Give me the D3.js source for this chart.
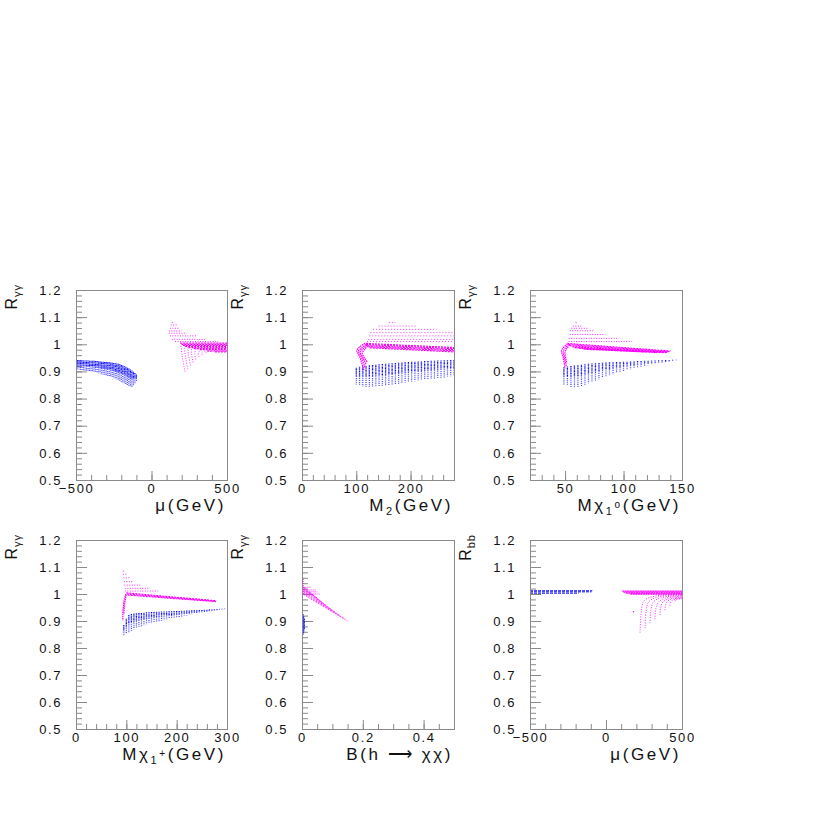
<!DOCTYPE html>
<html>
<head>
<meta charset="utf-8">
<script src="https://cdn.jsdelivr.net/npm/d3@7"></script>
<style>
  body { margin: 0; background: #fff; }
  svg { display: block; }
</style>
</head>
<body>
<svg id="chart" width="817" height="817"></svg>
<script>
/* ---- axis ticks ---- */
const yTicks = [0.5, 0.6, 0.7, 0.8, 0.9, 1, 1.1, 1.2];
const yTickLabels = ["0.5", "0.6", "0.7", "0.8", "0.9", "1", "1.1", "1.2"];
const muTicks = [-500, 0, 500];
const m2Ticks = [0, 100, 200];
const mN1Ticks = [50, 100, 150];
const mC1Ticks = [0, 100, 200, 300];
const brTicks = [0, 0.2, 0.4];
const brTickLabels = ["0", "0.2", "0.4"];

/* ---- panel 1 : R_gg vs mu ---- */
const p1BlueMu = [-500,-490,-480,-470,-460,-450,-440,-430,-420,-410,-400,-390,-380,-370,-360,-350,-340,-330,-320,-310,-300,-290,-280,-270,-260,-250,-240,-230,-220,-210,-200,-190,-180,-170,-160,-150,-140,-130,-120,-110,-100];
const p1BlueTop = [.942,.942,.941,.941,.941,.940,.940,.940,.940,.939,.939,.939,.939,.938,.938,.937,.937,.936,.936,.935,.935,.934,.934,.933,.932,.931,.930,.929,.928,.926,.924,.922,.919,.917,.914,.911,.907,.903,.899,.894,.889];
const p1BlueBot = [.908,.908,.907,.906,.905,.904,.903,.902,.900,.899,.898,.897,.896,.895,.894,.893,.892,.890,.889,.887,.886,.884,.882,.880,.878,.876,.873,.871,.868,.865,.862,.859,.856,.853,.850,.847,.845,.843,.848,.854,.861];
const p1MagFan = [[135,1.080,150,1.080],[127,1.071,167,1.071],[122,1.059,189,1.059],[115,1.049,200,1.049],[115,1.041,233,1.041],[122,1.031,299,1.031],[134,1.018,354,1.018],[156,1.010,442,1.010]];
const p1MagBand = [[190,1.004,500,1.004],[198,1.000,500,1.000],[208,0.996,500,0.996],[222,0.992,500,0.992],[245,0.988,500,0.988],[280,0.984,500,0.984],[320,0.980,500,0.980],[370,0.976,500,0.976],[420,0.972,500,0.972]];
const p1MagArcs = [
  [[222,0.899],[205,0.950],[195,0.995]],
  [[240,0.910],[225,0.955],[215,0.992]],
  [[258,0.922],[245,0.960],[240,0.989]],
  [[276,0.933],[265,0.963],[265,0.985]],
  [[294,0.944],[287,0.966],[295,0.982]],
  [[314,0.953],[310,0.968],[325,0.979]],
  [[335,0.961],[335,0.970],[360,0.976]],
  [[360,0.967],[365,0.972],[400,0.974]]
];

/* ---- panel 2 : R_gg vs M2 ---- */
const p2BlueM2 = [100,106,112,118,124,130,136,142,148,154,160,166,172,178,184,190,196,202,208,214,220,226,232,238,244,250,256,262,268,274,280];
const p2BlueTop = [.914,.917,.919,.921,.923,.924,.925,.926,.927,.928,.929,.930,.931,.932,.933,.934,.935,.936,.936,.937,.937,.938,.938,.939,.939,.940,.940,.941,.941,.942,.942];
const p2BlueBot = [.852,.848,.845,.843,.842,.842,.843,.844,.845,.847,.849,.851,.853,.855,.857,.859,.861,.862,.864,.866,.867,.869,.870,.872,.873,.875,.877,.878,.880,.882,.884];
const p2MagFan = [[160,1.080,172,1.080],[141,1.067,211,1.067],[131,1.055,248,1.055],[126,1.043,280,1.043],[124,1.031,280,1.031],[122,1.018,280,1.018],[120,1.010,280,1.010]];
const p2MagBand = [[118,1.003,280,0.988],[118,0.999,280,0.984],[120,0.995,280,0.980],[122,0.991,280,0.976],[125,0.987,280,0.972]];
const p2MagHook = [
  [[116,1.004],[106,0.990],[101,0.977],[106,0.955],[114,0.905]],
  [[118,1.000],[109,0.985],[104,0.975],[109,0.955],[116,0.915]],
  [[120,0.998],[112,0.982],[107,0.972],[112,0.952],[118,0.925]],
  [[121,0.995],[115,0.980],[111,0.968],[115,0.950],[120,0.935]]
];

/* ---- panel 3 : R_gg vs M chi1^0 ---- */
const p3BlueM = [49,52,55,58,61,64,67,70,73,76,79,82,85,88,91,94,97,100,103,106,109,112,115,118,121,124,127,130,133,136,139,142,145];
const p3BlueTop = [.915,.918,.920,.922,.923,.925,.926,.928,.929,.930,.931,.932,.933,.934,.934,.935,.935,.936,.936,.937,.937,.938,.938,.939,.939,.940,.940,.941,.941,.942,.942,.943,.943];
const p3BlueBot = [.852,.848,.843,.839,.840,.845,.851,.856,.861,.866,.871,.876,.881,.886,.890,.894,.898,.902,.905,.908,.911,.914,.917,.920,.923,.926,.928,.931,.933,.935,.937,.939,.941];
const p3MagFan = [[59,1.080,61,1.080],[56.6,1.067,64,1.067],[55.3,1.059,70,1.059],[54,1.050,75,1.050],[54,1.036,83,1.036],[53,1.022,96,1.022],[53,1.010,107,1.010]];
const p3MagBand = [[52,1.003,140,0.975],[53,0.999,139,0.973],[54,0.995,138,0.971],[56,0.991,137,0.970],[58,0.988,135,0.969],[62,0.985,128,0.970],[66,0.982,118,0.972]];
const p3MagHook = [
  [[52,1.002],[49,0.990],[47,0.977],[48.5,0.950],[50,0.911]],
  [[53,1.000],[50.5,0.988],[48.5,0.975],[49.5,0.950],[51,0.920]],
  [[54,0.998],[51.5,0.985],[50,0.972],[50.5,0.950],[51.5,0.930]]
];

/* ---- panel 4 : R_gg vs M chi1^+ ---- */
const p4BlueM = [95,100,105,110,115,120,125,130,135,140,145,150,155,160,165,170,175,180,185,190,195,200,205,210,215,220,225,230,235,240,245,250,255,260,265,270,275,280,285,290,295];
const p4BlueTop = [.885,.908,.922,.926,.928,.929,.930,.930,.931,.932,.932,.933,.933,.934,.934,.935,.935,.935,.936,.936,.937,.937,.937,.938,.938,.939,.939,.940,.940,.940,.941,.941,.942,.942,.943,.943,.944,.944,.945,.945,.946];
const p4BlueBot = [.845,.852,.858,.864,.869,.873,.877,.881,.884,.887,.890,.892,.895,.897,.899,.901,.903,.905,.907,.909,.911,.913,.915,.917,.919,.920,.922,.924,.926,.927,.929,.931,.932,.934,.936,.937,.939,.940,.942,.943,.944];
const p4MagFan = [[93,1.085,95,1.085],[93,1.073,100,1.073],[94,1.060,107,1.060],[95,1.046,113,1.046],[96,1.033,128,1.033],[97,1.021,147,1.021],[97,1.011,163,1.011]];
const p4MagBand = [[100,1.004,278,0.975],[101,1.000,279,0.973],[103,0.996,278,0.972]];
const p4MagHook = [
  [[99,1.000],[96,0.980],[94,0.950],[93,0.920],[93,0.902]],
  [[100,0.998],[97.5,0.975],[96,0.950],[95,0.925]]
];

/* ---- panel 5 : R_gg vs B(h -> chi chi) ---- */
const p5Blue = [[0.002,0.848,0.002,0.928],[0.004,0.850,0.004,0.925],[0.006,0.858,0.006,0.918],[0.008,0.870,0.008,0.910]];
const p5MagTop = [[0.001,1.000,0.001,1.083],[0.004,1.000,0.004,1.060],[0.002,1.025,0.030,1.025],[0.002,1.015,0.045,1.015],[0.002,1.008,0.050,1.008],[0.002,1.000,0.060,1.000]];
const p5MagFan = [[0.002,1.000,0.150,0.900],[0.002,1.005,0.140,0.908],[0.002,1.010,0.125,0.920],[0.002,1.015,0.110,0.932],[0.002,1.020,0.095,0.944],[0.002,1.025,0.080,0.957],[0.002,1.030,0.065,0.970],[0.002,1.020,0.050,0.985]];

/* ---- panel 6 : R_bb vs mu ---- */
const p6Blue = [[-500,1.012,-90,1.012],[-500,1.008,-95,1.008],[-500,1.003,-180,1.003]];
const p6MagBand = [[107,1.011,500,1.011],[115,1.007,500,1.007],[130,1.003,500,1.003],[160,1.000,500,1.000]];
const p6MagArcs = [
  [[224,0.857],[232,0.930],[250,0.975],[320,0.992],[500,0.998]],
  [[257,0.873],[264,0.935],[280,0.970],[340,0.989],[500,0.996]],
  [[289,0.892],[296,0.940],[312,0.970],[360,0.986],[500,0.994]],
  [[322,0.907],[328,0.945],[345,0.970],[390,0.984],[500,0.992]],
  [[355,0.922],[360,0.950],[375,0.971],[415,0.982],[500,0.989]],
  [[388,0.940],[392,0.958],[405,0.973],[440,0.982],[500,0.986]],
  [[421,0.957],[425,0.967],[435,0.976],[460,0.981],[500,0.984]],
  [[454,0.974],[458,0.978],[470,0.981],[500,0.982]]
];
const p6MagDots = [[180,0.935]];

const BLUE = "#0c0cff", MAG = "#ff00ff";
const FONT = "'Liberation Sans', Arial, Helvetica, sans-serif";

const svg = d3.select("#chart");
svg.append("rect").attr("width", 817).attr("height", 817).attr("fill", "#fff");

let clipId = 0;

function makePanel(cfg) {
  const g = svg.append("g");
  const x = d3.scaleLinear().domain(cfg.xDom).range([cfg.x0, cfg.x1]);
  const y = d3.scaleLinear().domain([0.5, 1.2]).range([cfg.y1, cfg.y0]);

  // minor y ticks
  g.append("g")
    .attr("transform", `translate(${cfg.x0},0)`)
    .attr("color", "#8a8a8a")
    .call(d3.axisLeft(y).tickValues(d3.range(0.5, 1.2001, 0.02)).tickSize(-6).tickFormat(""))
    .call(a => a.select(".domain").remove());

  // major y ticks + labels
  const ya = g.append("g")
    .attr("transform", `translate(${cfg.x0},0)`)
    .attr("color", "#8a8a8a")
    .call(d3.axisLeft(y).tickValues(yTicks).tickSize(-11).tickPadding(14)
      .tickFormat((d, i) => yTickLabels[i]))
    .call(a => a.select(".domain").remove());

  // minor x ticks
  g.append("g")
    .attr("transform", `translate(0,${cfg.y1})`)
    .attr("color", "#8a8a8a")
    .call(d3.axisBottom(x).tickValues(cfg.xMinor).tickSize(-5).tickFormat(""))
    .call(a => a.select(".domain").remove());

  // major x ticks + labels
  const xa = g.append("g")
    .attr("transform", `translate(0,${cfg.y1})`)
    .attr("color", "#8a8a8a")
    .call(d3.axisBottom(x).tickValues(cfg.xMajor).tickSize(-9).tickPadding(4)
      .tickFormat(cfg.xFormat))
    .call(a => a.select(".domain").remove());

  [ya, xa].forEach(a => {
    a.attr("font-family", null).attr("font-size", null);
    a.selectAll("text")
      .attr("fill", "#111")
      .attr("font-family", FONT)
      .attr("font-size", 13)
      .attr("letter-spacing", "1.6px");
  });

  // frame
  g.append("rect")
    .attr("x", cfg.x0 + 0.5).attr("y", cfg.y0 + 0.5)
    .attr("width", cfg.x1 - cfg.x0).attr("height", cfg.y1 - cfg.y0)
    .attr("fill", "none").attr("stroke", "#8a8a8a").attr("stroke-width", 1);

  // x title
  const xt = g.append("text")
    .attr("x", cfg.x1 - 1).attr("y", cfg.y1 + 31)
    .attr("text-anchor", "end")
    .attr("font-family", FONT).attr("font-size", 17)
    .attr("letter-spacing", "2.6px").attr("fill", "#111");
  cfg.xTitle.forEach(t => {
    const s = xt.append("tspan").text(t.s);
    if (t.dy) s.attr("dy", t.dy);
    if (t.fs) s.attr("font-size", t.fs);
  });

  // y title (rotated)
  const yt = g.append("text")
    .attr("transform", `translate(${cfg.x0 - 59},${cfg.y0 - 6}) rotate(-90)`)
    .attr("text-anchor", "end")
    .attr("font-family", FONT).attr("font-size", 16)
    .attr("letter-spacing", "1px").attr("fill", "#111");
  yt.append("tspan").text("R");
  yt.append("tspan").text(cfg.ySub).attr("font-size", 11).attr("dy", 4);

  const cid = "clip" + (clipId++);
  svg.append("clipPath").attr("id", cid).append("rect")
    .attr("x", cfg.x0 + 1).attr("y", cfg.y0 + 1)
    .attr("width", cfg.x1 - cfg.x0 - 1).attr("height", cfg.y1 - cfg.y0 - 1);
  const plot = g.append("g").attr("clip-path", `url(#${cid})`);

  return { g: plot, x, y };
}

function streaks(p, xs, tops, bots, color) {
  const sel = p.g.append("g").selectAll("g").data(xs).join("g");
  // denser upper half, sparser lower half of each scan column
  sel.append("line")
    .attr("x1", d => p.x(d)).attr("x2", d => p.x(d))
    .attr("y1", (d, i) => p.y(tops[i]))
    .attr("y2", (d, i) => (p.y(tops[i]) + p.y(bots[i])) / 2)
    .attr("stroke", color).attr("stroke-width", 1.3)
    .attr("stroke-dasharray", "1,0.4");
  sel.append("line")
    .attr("x1", d => p.x(d)).attr("x2", d => p.x(d))
    .attr("y1", (d, i) => (p.y(tops[i]) + p.y(bots[i])) / 2)
    .attr("y2", (d, i) => p.y(bots[i]))
    .attr("stroke", color).attr("stroke-width", 1.2).attr("opacity", 0.75)
    .attr("stroke-dasharray", "1,0.9");
}

function segs(p, data, color, dash, width, op) {
  p.g.append("g").selectAll("line").data(data).join("line")
    .attr("x1", d => p.x(d[0])).attr("y1", d => p.y(d[1]))
    .attr("x2", d => p.x(d[2])).attr("y2", d => p.y(d[3]))
    .attr("stroke", color).attr("stroke-width", width || 1)
    .attr("stroke-dasharray", dash).attr("opacity", op || 1);
}

function curves(p, data, color, dash, width, op) {
  const line = d3.line().x(d => p.x(d[0])).y(d => p.y(d[1])).curve(d3.curveCatmullRom);
  p.g.append("g").selectAll("path").data(data).join("path")
    .attr("d", line).attr("fill", "none")
    .attr("stroke", color).attr("stroke-width", width || 1)
    .attr("stroke-dasharray", dash).attr("opacity", op || 1);
}

function dots(p, data, color) {
  p.g.append("g").selectAll("rect").data(data).join("rect")
    .attr("x", d => p.x(d[0]) - 0.5).attr("y", d => p.y(d[1]) - 0.5)
    .attr("width", 1.2).attr("height", 1.2).attr("fill", color);
}

/* panel 1 */
const P1 = makePanel({ x0: 76, x1: 227, y0: 290, y1: 480, xDom: [-500, 500],
  xMajor: muTicks, xMinor: d3.range(-400, 401, 100), xFormat: d3.format(""),
  xTitle: [{ s: "μ(GeV)" }], ySub: "γγ" });
streaks(P1, p1BlueMu, p1BlueTop, p1BlueBot, BLUE);
segs(P1, p1MagFan, MAG, "1,1.5", 1, 0.85);
segs(P1, p1MagBand, MAG, "2,1", 1.2);
curves(P1, p1MagArcs, MAG, "1,1.5", 1, 0.8);

/* panel 2 */
const P2 = makePanel({ x0: 302, x1: 454, y0: 290, y1: 480, xDom: [0, 280],
  xMajor: m2Ticks, xMinor: d3.range(20, 280, 20), xFormat: d3.format(""),
  xTitle: [{ s: "M" }, { s: "2", dy: 4, fs: 11 }, { s: "(GeV)", dy: -4 }], ySub: "γγ" });
streaks(P2, p2BlueM2, p2BlueTop, p2BlueBot, BLUE);
segs(P2, p2MagFan, MAG, "1,2", 1, 0.8);
segs(P2, p2MagBand, MAG, "2,1", 1.2);
curves(P2, p2MagHook, MAG, "1.5,0.7", 1.2);

/* panel 3 */
const P3 = makePanel({ x0: 530, x1: 682, y0: 290, y1: 480, xDom: [20, 150],
  xMajor: mN1Ticks, xMinor: d3.range(30, 150, 10), xFormat: d3.format(""),
  xTitle: [{ s: "Mχ" }, { s: "1", dy: 4, fs: 11 }, { s: "o", dy: -7, fs: 10 }, { s: "(GeV)", dy: 3 }], ySub: "γγ" });
streaks(P3, p3BlueM, p3BlueTop, p3BlueBot, BLUE);
segs(P3, p3MagFan, MAG, "1,1.5", 1, 0.85);
segs(P3, p3MagBand, MAG, "2,1", 1.2);
curves(P3, p3MagHook, MAG, "1.5,0.7", 1.2);

/* panel 4 */
const P4 = makePanel({ x0: 76, x1: 227, y0: 540, y1: 729, xDom: [0, 300],
  xMajor: mC1Ticks, xMinor: d3.range(20, 300, 20), xFormat: d3.format(""),
  xTitle: [{ s: "Mχ" }, { s: "1", dy: 4, fs: 11 }, { s: "+", dy: -7, fs: 10 }, { s: "(GeV)", dy: 3 }], ySub: "γγ" });
streaks(P4, p4BlueM, p4BlueTop, p4BlueBot, BLUE);
segs(P4, p4MagFan, MAG, "1,1.5", 1, 0.85);
segs(P4, p4MagBand, MAG, "2,1", 1.2);
curves(P4, p4MagHook, MAG, "1.5,0.7", 1.2);

/* panel 5 */
const P5 = makePanel({ x0: 302, x1: 454, y0: 540, y1: 729, xDom: [0, 0.5],
  xMajor: brTicks, xMinor: d3.range(0.05, 0.5, 0.05), xFormat: (d, i) => brTickLabels[i],
  xTitle: [{ s: "B(h ⟶ χχ)" }], ySub: "γγ" });
segs(P5, p5Blue, BLUE, "1,0.5", 1);
segs(P5, p5MagTop, MAG, "1,1", 1, 0.85);
segs(P5, p5MagFan, MAG, "1,1", 1, 0.85);

/* panel 6 */
const P6 = makePanel({ x0: 530, x1: 682, y0: 540, y1: 729, xDom: [-500, 500],
  xMajor: muTicks, xMinor: d3.range(-400, 401, 100), xFormat: d3.format(""),
  xTitle: [{ s: "μ(GeV)" }], ySub: "bb" });
segs(P6, p6Blue, BLUE, "3,1", 1);
segs(P6, p6MagBand, MAG, "2,0.5", 1.3);
curves(P6, p6MagArcs, MAG, "1,1.5", 1, 0.85);
dots(P6, p6MagDots, MAG);
</script>
</body>
</html>
